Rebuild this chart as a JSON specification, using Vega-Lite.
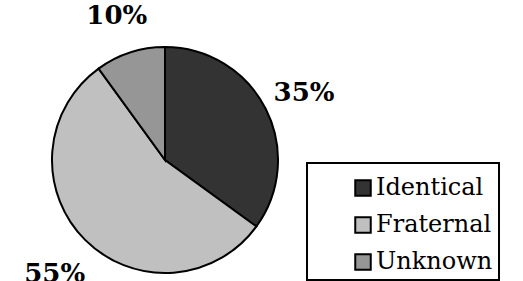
{
  "$schema": "https://vega.github.io/schema/vega-lite/v6.json",
  "width": 330,
  "height": 320,
  "autosize": {"type": "none"},
  "padding": {"left": 0, "top": 0, "right": 193, "bottom": 0},
  "background": "white",
  "data": {
    "values": [
      {"type": "Identical", "pct": 35, "label": "35%", "order": 1},
      {"type": "Fraternal", "pct": 55, "label": "55%", "order": 2},
      {"type": "Unknown", "pct": 10, "label": "10%", "order": 3}
    ]
  },
  "encoding": {
    "theta": {"field": "pct", "type": "quantitative", "stack": true},
    "order": {"field": "order", "type": "quantitative"}
  },
  "layer": [
    {
      "mark": {"type": "arc", "outerRadius": 113, "stroke": "black", "strokeWidth": 2},
      "encoding": {
        "color": {
          "field": "type",
          "type": "nominal",
          "sort": ["Identical", "Fraternal", "Unknown"],
          "scale": {"domain": ["Identical", "Fraternal", "Unknown"], "range": ["#333333", "#c0c0c0", "#969696"]},
          "legend": {
            "title": " ",
            "titleFontSize": 7,
            "titlePadding": 0,
            "orient": "none",
            "legendX": 307,
            "legendY": 163,
            "strokeColor": "black",
            "fillColor": "white",
            "padding": 6,
            "symbolOffset": 38,
            "symbolType": "square",
            "symbolSize": 240,
            "symbolStrokeColor": "black",
            "symbolStrokeWidth": 2,
            "symbolOpacity": 1,
            "labelFont": "DejaVu Serif",
            "labelFontSize": 24,
            "labelColor": "black",
            "labelOffset": 1,
            "rowPadding": 13,
            "labelLimit": 400,
            "encode": {"legend": {"update": {"strokeWidth": {"value": 2}, "width": {"value": 240}}}}
          }
        }
      }
    },
    {
      "mark": {"type": "text", "radius": 156, "dy": 4, "font": "DejaVu Serif", "fontWeight": "bold", "fontSize": 26, "color": "black"},
      "encoding": {"text": {"field": "label", "type": "nominal"}}
    }
  ],
  "config": {"view": {"stroke": null}}
}
